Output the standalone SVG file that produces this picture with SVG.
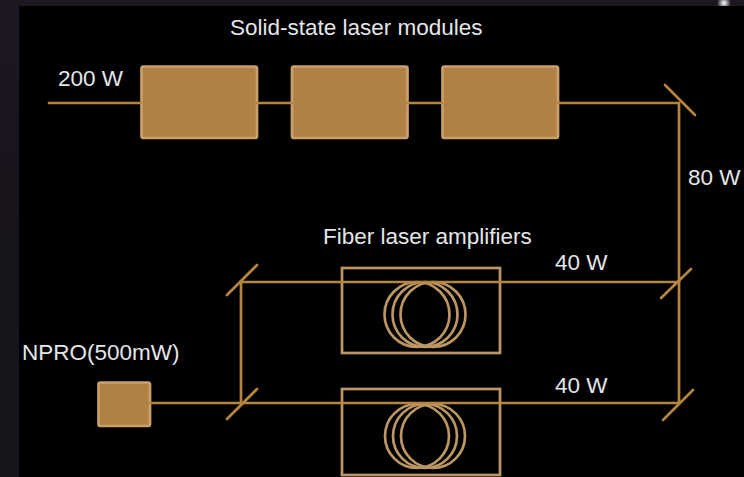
<svg xmlns="http://www.w3.org/2000/svg" width="744" height="477" viewBox="0 0 744 477">
<defs>
<linearGradient id="bg" x1="0" y1="0" x2="0" y2="1"><stop offset="0" stop-color="#1d1722"/><stop offset="0.5" stop-color="#17131a"/><stop offset="1" stop-color="#18141c"/></linearGradient>
<radialGradient id="spot"><stop offset="0" stop-color="#fff"/><stop offset="1" stop-color="#fff" stop-opacity="0"/></radialGradient>
</defs>
<style>
.t{font-family:"Liberation Sans",Arial,sans-serif;font-size:22.5px;fill:#e4e6e8}
.ln{stroke:#b5843f;stroke-width:2.700;fill:none;stroke-linecap:round}
.box{fill:#b08145;stroke:#c9a06c;stroke-width:2.700}
.fr{fill:none;stroke:#bd9763;stroke-width:2.700}
.coil{fill:none;stroke:#bd9763;stroke-width:2.700}
</style>
<rect width="744" height="477" fill="url(#bg)"/>
<circle cx="724" cy="3" r="7" fill="url(#spot)"/>
<rect x="19" y="6" width="725" height="471" fill="#000"/>
<g id="amp-1">
<rect class="fr" x="342" y="268" width="158" height="85"/>
<circle class="coil" cx="417" cy="314.500" r="32.500"/><circle class="coil" cx="425" cy="314.500" r="32.500"/><circle class="coil" cx="433" cy="314.500" r="32.500"/>
</g>
<g id="amp-2">
<rect class="fr" x="342" y="389" width="158" height="86"/>
<circle class="coil" cx="417" cy="436" r="32"/><circle class="coil" cx="425" cy="436" r="32"/><circle class="coil" cx="433" cy="436" r="32"/>
</g>
<g id="module-1"><rect class="box" x="141.500" y="66.500" width="115.500" height="71.500" rx="2"/></g>
<g id="module-2"><rect class="box" x="292" y="66.500" width="115.500" height="71.500" rx="2"/></g>
<g id="module-3"><rect class="box" x="442.500" y="66.500" width="115.500" height="71.500" rx="2"/></g>
<g id="npro"><rect class="box" x="98.500" y="382.500" width="51.500" height="43.500" rx="2"/></g>
<g id="connectors">
<path class="ln" d="M49 103H141M257 103H292M407.500 103H442M558 103H679V403H150"/>
<path class="ln" d="M679 282H241V403"/>
<path class="ln" d="M665 85L695 115"/>
<path class="ln" d="M661 298L691 269"/>
<path class="ln" d="M663 420L693 390"/>
<path class="ln" d="M227 295L257 265"/>
<path class="ln" d="M227 419L257 389"/>
</g>
<g id="labels">
<text class="t" x="230" y="35">Solid-state laser modules</text>
<text class="t" x="58" y="86">200 W</text>
<text class="t" x="688" y="185">80 W</text>
<text class="t" x="323" y="244">Fiber laser amplifiers</text>
<text class="t" x="555" y="270">40 W</text>
<text class="t" x="555" y="393">40 W</text>
<text class="t" x="22" y="360">NPRO(500mW)</text>
</g>
</svg>
